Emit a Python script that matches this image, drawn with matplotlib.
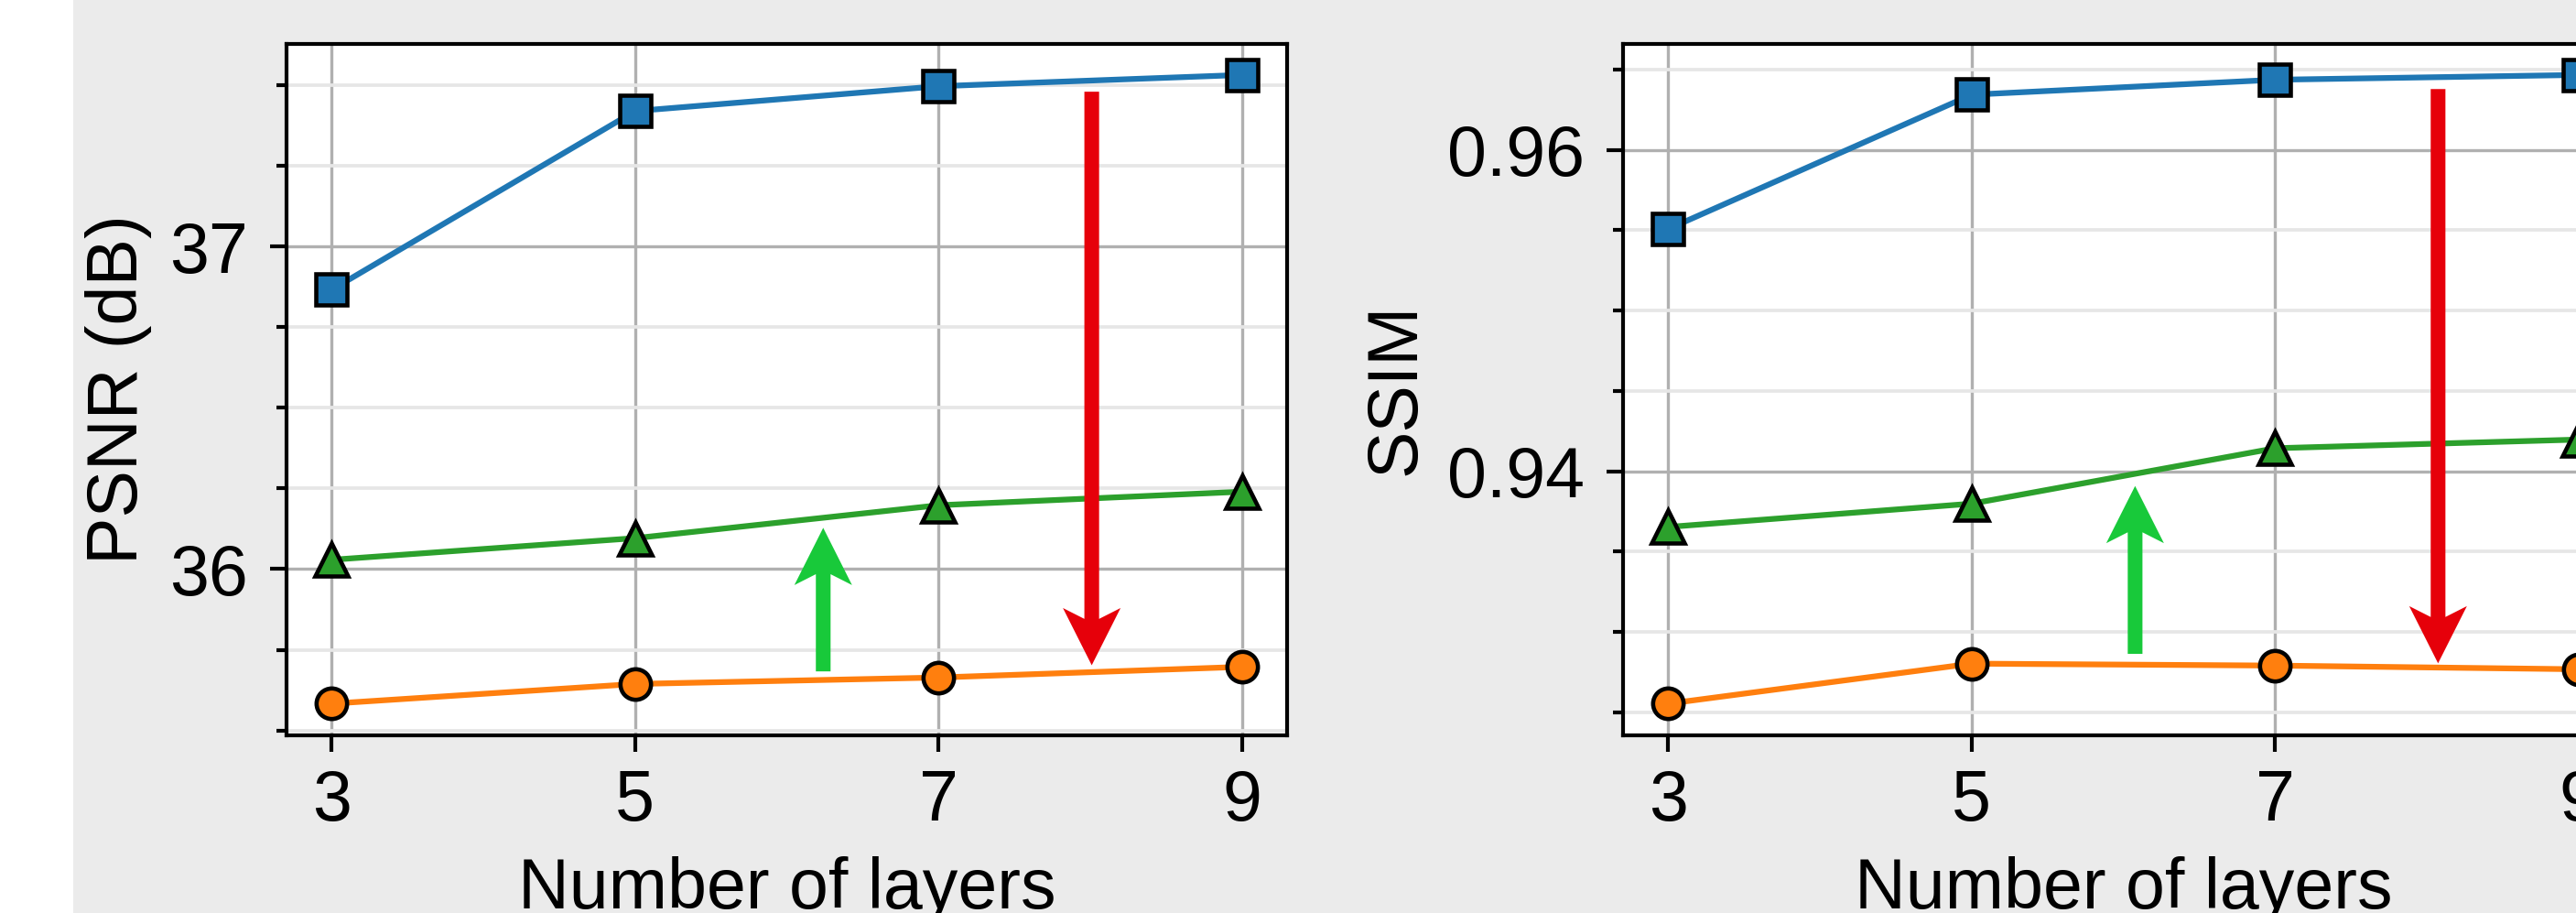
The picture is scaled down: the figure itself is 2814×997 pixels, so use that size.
import numpy as np
import matplotlib
matplotlib.use("Agg")
from matplotlib import pyplot as plt
from matplotlib.patches import Rectangle
from matplotlib.ticker import MultipleLocator

plt.rcParams['font.family'] = ['Liberation Sans', 'DejaVu Sans']
plt.rcParams['font.size'] = 18.5

layers = [3, 5, 7, 9]

# PSNR (dB)
psnr_square = [36.866, 37.420, 37.497, 37.532]
psnr_triangle = [36.029, 36.096, 36.198, 36.240]
psnr_circle = [35.583, 35.644, 35.664, 35.697]

# SSIM
ssim_square = [0.95508, 0.96344, 0.96437, 0.96467]
ssim_triangle = [0.93653, 0.93798, 0.94143, 0.94197]
ssim_circle = [0.92553, 0.92802, 0.92790, 0.92767]

# arrows: x, tail y, tip y
psnr_up = (6.24, 35.683, 36.128)
psnr_down = (8.01, 37.480, 35.702)
ssim_up = (6.077, 0.92863, 0.93908)
ssim_down = (8.074, 0.96379, 0.92804)

W, H = 2814, 997
fig = plt.figure(figsize=(W / 300, H / 300), dpi=300, facecolor='white')
fig.add_artist(Rectangle((80 / W, 0), 1, 1, transform=fig.transFigure,
                         facecolor='#ebebeb', edgecolor='none', zorder=0))

ax_w = (1406.4 - 312.6) / W
ax_b = (H - 802.7) / H
ax_h = 755.2 / H
ax1 = fig.add_axes([312.6 / W, ax_b, ax_w, ax_h])
ax2 = fig.add_axes([1772.7 / W, ax_b, ax_w, ax_h])


def draw(ax, sq, tri, circ, up, down, major, minor, ylabel, head_len):
    ax.set_facecolor('white')
    ax.plot(layers, sq, color='#1f77b4', lw=1.5, marker='s', ms=8,
            mec='black', mew=1.1, zorder=2)
    ax.plot(layers, tri, color='#2ca02c', lw=1.5, marker='^', ms=8.5,
            mec='black', mew=1.1, zorder=2)
    ax.plot(layers, circ, color='#ff7f0e', lw=1.5, marker='o', ms=8,
            mec='black', mew=1.1, zorder=2)

    for (x, y0, y1), c in ((up, '#18c93a'), (down, '#e6000a')):
        ax.arrow(x, y0, 0, y1 - y0, width=0.097, head_width=0.38,
                 head_length=head_len, length_includes_head=True,
                 overhang=0.19, facecolor=c, edgecolor='none', lw=0, zorder=3)

    ax.set_xticks(layers)
    ax.yaxis.set_major_locator(MultipleLocator(major))
    ax.yaxis.set_minor_locator(MultipleLocator(minor))
    ax.grid(True, which='major', color='#b0b0b0', lw=0.8, zorder=0)
    ax.grid(True, which='minor', axis='y', color='#e6e6e6', lw=0.9, zorder=0)
    ax.set_axisbelow(True)
    ax.tick_params(which='major', length=4.3, width=1.0, direction='out')
    ax.tick_params(which='minor', length=2.7, width=1.0, direction='out')
    ax.tick_params(axis='y', which='major', pad=5.8)
    ax.tick_params(axis='x', which='major', pad=4.5)
    for s in ax.spines.values():
        s.set_linewidth(1.0)
    ax.set_xlabel('Number of layers', labelpad=5.5)
    ax.set_ylabel(ylabel, labelpad=4.5)
    ax.margins(x=0.05, y=0.05)


draw(ax1, psnr_square, psnr_triangle, psnr_circle, psnr_up, psnr_down,
     1, 0.25, 'PSNR (dB)', 0.1774)
draw(ax2, ssim_square, ssim_triangle, ssim_circle, ssim_up, ssim_down,
     0.02, 0.005, 'SSIM', 0.00356)

fig.savefig('out.png', dpi=300, facecolor=fig.get_facecolor())
